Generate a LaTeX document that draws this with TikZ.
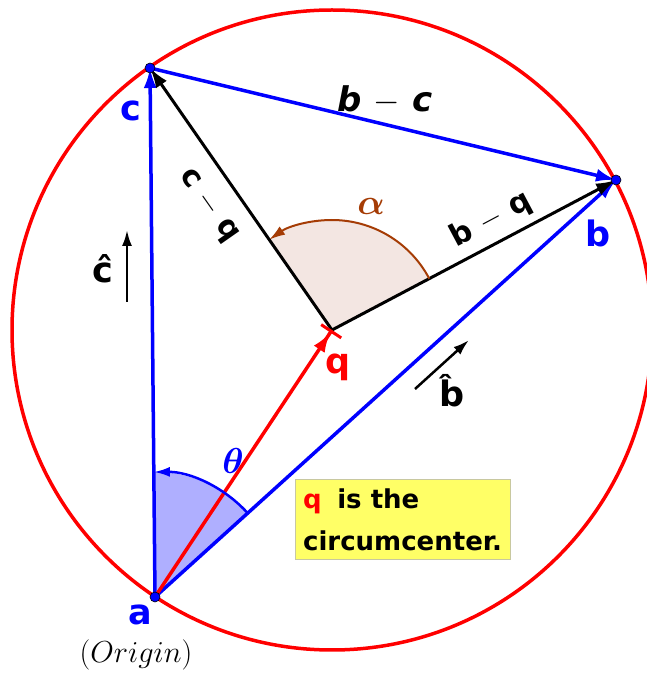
\RequirePackage{fix-cm}
\documentclass[tikz,border=0pt]{standalone}
\usepackage{fontspec}
\usepackage{bm}
\setmainfont{DejaVu Sans}
\usetikzlibrary{arrows.meta,calc}
\definecolor{myblue}{RGB}{0,0,255}
\definecolor{myred}{RGB}{255,0,0}
\definecolor{mybrown}{RGB}{165,60,5}
\definecolor{alphafill}{RGB}{243,230,226}
\definecolor{thetafill}{RGB}{175,175,255}
\definecolor{boxyellow}{RGB}{255,255,102}
\definecolor{boxedge}{RGB}{200,200,160}
\begin{document}
\begin{tikzpicture}[x=1pt,y=1pt,
  vec/.style={line width=3.5pt,-{Latex[length=20pt,width=13pt]}},
  bvec/.style={line width=3pt,-{Latex[length=20pt,width=13pt]}},
  dotnode/.style={circle,fill=myblue,draw=black,line width=0.6pt,inner sep=0pt,minimum size=10pt},
  lbl/.style={font=\fontsize{35}{40}\selectfont\bfseries},
  mlbl/.style={font=\fontsize{30}{34}\selectfont\bfseries},
  mathlbl/.style={font=\fontsize{24.88}{30}\selectfont},
  hatarrow/.style={line width=2.5pt,-{Latex[length=16pt,width=10pt]}}]
\useasboundingbox (0,0) rectangle (647,673);
\coordinate (a) at (155,76);
\coordinate (c) at (150,605);
\coordinate (b) at (616,493);
\coordinate (q) at (332,343);
% circle
\draw[myred,line width=3.5pt] (q) circle[radius=320];
% sector fills
\fill[thetafill] (a) -- ($(a)+(42.1:125)$) arc[start angle=42.1,end angle=90.5,radius=125] -- cycle;
\fill[alphafill] (q) -- ($(q)+(27.8:110)$) arc[start angle=27.8,end angle=124.8,radius=110] -- cycle;
% vectors
\draw[vec,myblue] (a) -- (c);
\draw[vec,myblue] (a) -- (b);
\draw[vec,myblue] (c) -- (b);
\draw[bvec,black] (q) -- (c);
\draw[bvec,black] (q) -- (b);
\draw[myred,line width=3.5pt,-{Latex[length=20pt,width=13pt] Bar[width=24pt,line width=3pt]}] (a) -- (q);
% angle arcs
\draw[myblue,line width=2.5pt,-{Latex[length=16pt,width=10pt]}] ($(a)+(42.1:125)$) arc[start angle=42.1,end angle=90.5,radius=125];
\draw[mybrown,line width=2pt,-{Latex[length=16pt,width=10pt]}] ($(q)+(27.8:110)$) arc[start angle=27.8,end angle=124.8,radius=110];
% dots
\node[dotnode] (da) at (a) {};
\node[dotnode] (db) at (b) {};
\node[dotnode] (dc) at (c) {};
% labels
\node[lbl,text=myblue] (la) at (140,58) {a};
\node[lbl,text=myblue] (lb) at (598,440) {b};
\node[lbl,text=myblue] (lc) at (131,562) {c};
\node[lbl,text=myred] (lq) at (338,306) {q};
\node[mathlbl,scale=1.22] (orig) at (136,18) {$(Origin)$};
\node[font=\fontsize{34}{38}\selectfont\bfseries\itshape] (lbc) at (385,573) {b $-$ c};
\node[mlbl,rotate=-55] (lcq) at (208,467) {c $-$ q};
\node[mlbl,rotate=28] (lbq) at (491,453) {b $-$ q};
\node[mathlbl,scale=1.45,text=mybrown] (lalpha) at (371,467) {$\bm{\alpha}$};
\node[mathlbl,scale=1.45,text=myblue] (ltheta) at (233,212) {$\bm{\theta}$};
% unit vectors
\coordinate (ch0) at (127,371);
\coordinate (ch1) at (127,443);
\draw[hatarrow] (ch0) -- (ch1);
\node[lbl] (lch) at (103,404) {\^{c}};
\coordinate (bh0) at (415,284);
\coordinate (bh1) at (469,333);
\draw[hatarrow] (bh0) -- (bh1);
\node[lbl] (lbh) at (452,282) {\^{b}};
% box
\node[fill=boxyellow,draw=boxedge,line width=1pt,minimum width=215pt,minimum height=80pt,
  align=left,inner sep=5pt,font=\fontsize{26}{42}\selectfont\bfseries] (box) at (402.5,153)
  {{\color{myred}q}\hspace{0.6em}is the\\circumcenter.};
\end{tikzpicture}
\end{document}
